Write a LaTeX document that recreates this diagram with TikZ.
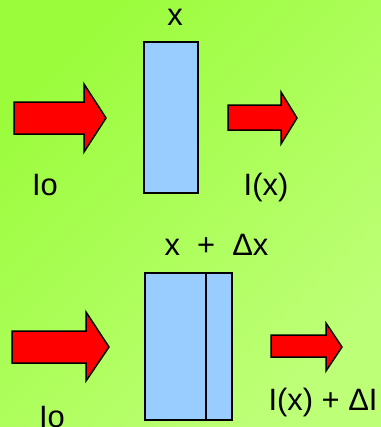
\documentclass[tikz,border=0pt]{standalone}
\usepackage{fontspec}
\setmainfont{Liberation Sans}
\definecolor{bggreen}{RGB}{155,252,60}
\definecolor{bglight}{RGB}{190,255,120}
\definecolor{slabblue}{RGB}{153,204,255}
\begin{document}
\begin{tikzpicture}
 [x=1bp, y=-1bp,
  slab/.style={draw=black, line width=1.8bp, fill=slabblue},
  beam/.style={draw=black, line width=1.5bp, fill=red, line join=miter},
  label/.style={font=\fontsize{31}{36}\selectfont, anchor=base, inner sep=0pt}]

% background
\fill[left color=bggreen, right color=bglight, shading angle=45] (0,0) rectangle (381,427);
\useasboundingbox (0,0) rectangle (381,427);

% upper slab
\node[slab, minimum width=54bp, minimum height=151bp, inner sep=0pt] (slab1) at (171,117.5) {};
\node[label] (x1) at (175,25) {x};

% lower slab, split at x + dx
\node[slab, minimum width=87bp, minimum height=147bp, inner sep=0pt] (slab2) at (188.5,346.5) {};
\coordinate (cut top) at (206,273);
\coordinate (cut bot) at (206,420);
\draw[line width=1.8bp] (cut top) -- (cut bot);
\node[label] (x2) at (216.5,255) {x\ \ +\ \ Δx};

% beams
\draw[beam] (14,102) -- (84,102) -- (84,84) -- (106,118) -- (84,152) -- (84,134) -- (14,134) -- cycle;
\draw[beam] (228,105) -- (281,105) -- (281,92) -- (297,118) -- (281,144) -- (281,130) -- (228,130) -- cycle;
\draw[beam] (12,331) -- (86,331) -- (86,312) -- (109,347) -- (86,381) -- (86,363) -- (12,363) -- cycle;
\draw[beam] (271,335) -- (326,335) -- (326,323) -- (342,347) -- (326,371) -- (326,357) -- (271,357) -- cycle;

\node[label] (io1) at (45,195) {Io};
\node[label] (ix) at (266,195) {I(x)};
\node[label] (io2) at (52,427) {Io};
\node[label] (ixdi) at (323,410) {I(x) + ΔI};
\end{tikzpicture}
\end{document}
